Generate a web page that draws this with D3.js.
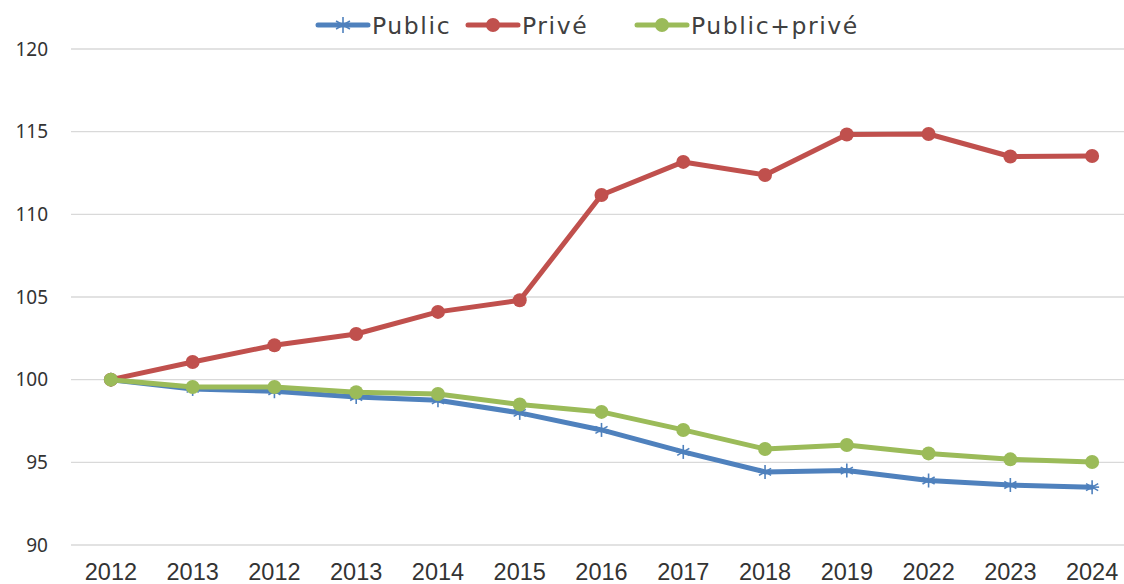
<!DOCTYPE html>
<html><head><meta charset="utf-8">
<script src="https://cdn.jsdelivr.net/npm/d3@7"></script>
<style>body{margin:0;background:#fff}svg{display:block}</style>
</head><body>
<svg id="chart" width="1124" height="584"></svg>
<script>
const categories = ["2012","2013","2012","2013","2014","2015","2016","2017","2018","2019","2022","2023","2024"];
const publicValues = [100, 99.44, 99.3, 98.95, 98.75, 97.99, 96.96, 95.63, 94.42, 94.5, 93.9, 93.63, 93.5];
const priveValues = [100, 101.07, 102.08, 102.76, 104.1, 104.8, 111.17, 113.17, 112.38, 114.83, 114.86, 113.5, 113.53];
const totalValues = [100, 99.56, 99.56, 99.24, 99.13, 98.5, 98.05, 96.96, 95.81, 96.05, 95.54, 95.18, 95.02];
const yTicks = [90, 95, 100, 105, 110, 115, 120];
const seriesNames = ["Public", "Privé", "Public+privé"];

const svg = d3.select("#chart");
const x = d3.scaleBand().domain(d3.range(categories.length)).range([70, 1133]).padding(0);
const y = d3.scaleLinear().domain([90, 120]).range([545, 49]);
const cx = i => x(i) + x.bandwidth() / 2;

// grid
svg.append("g").selectAll("line").data(yTicks).join("line")
  .attr("x1", 71).attr("x2", 1124)
  .attr("y1", d => y(d)).attr("y2", d => y(d))
  .attr("stroke", "#d9d9d9").attr("stroke-width", 1.3);

// y axis labels
const yAxis = d3.axisLeft(y).tickValues(yTicks).tickSize(0).tickPadding(0).tickFormat(d3.format("d"));
const gy = svg.append("g").attr("transform", "translate(48,0)").call(yAxis);
gy.select(".domain").remove();
gy.selectAll("text").attr("font-family", "Noto Sans, DejaVu Sans, sans-serif").attr("font-size", 19).attr("fill", "#333");

// x axis labels
const xAxis = d3.axisBottom(x).tickSize(0).tickPadding(0).tickFormat(i => categories[i]);
const gx = svg.append("g").attr("transform", "translate(0,563)").call(xAxis);
gx.select(".domain").remove();
gx.selectAll("text").attr("font-family", "Liberation Sans Narrow, Liberation Sans, sans-serif").attr("font-size", 23.5).attr("fill", "#333");

const line = d3.line().x((d, i) => cx(i)).y(d => y(d));
const colors = ["#4F81BD", "#C0504D", "#9BBB59"];
const data = [publicValues, priveValues, totalValues];

function asterisk(g, px, py, r, color) {
  const a = [0, 60, 120].map(t => t * Math.PI / 180);
  a.forEach(t => {
    g.append("line").attr("x1", px - r * Math.sin(t)).attr("y1", py - r * Math.cos(t))
      .attr("x2", px + r * Math.sin(t)).attr("y2", py + r * Math.cos(t))
      .attr("stroke", color).attr("stroke-width", 1.6);
  });
  g.append("line").attr("x1", px - r).attr("x2", px + r).attr("y1", py).attr("y2", py)
    .attr("stroke", color).attr("stroke-width", 1.6);
}

data.forEach((vals, k) => {
  const g = svg.append("g");
  g.append("path").datum(vals).attr("d", line).attr("fill", "none")
    .attr("stroke", colors[k]).attr("stroke-width", 5).attr("stroke-linejoin", "round").attr("stroke-linecap", "round");
  if (k === 0) {
    vals.forEach((v, i) => asterisk(g, cx(i), y(v), 7, colors[k]));
  } else {
    g.selectAll("circle").data(vals).join("circle")
      .attr("cx", (d, i) => cx(i)).attr("cy", d => y(d)).attr("r", 7).attr("fill", colors[k]);
  }
});

// legend
const legendX = [318, 468, 637];
const lg = svg.append("g");
seriesNames.forEach((n, k) => {
  const g = lg.append("g").attr("transform", `translate(${legendX[k]},25)`);
  g.append("line").attr("x1", 0).attr("x2", 50).attr("y1", 0).attr("y2", 0)
    .attr("stroke", colors[k]).attr("stroke-width", 5).attr("stroke-linecap", "round");
  if (k === 0) asterisk(g, 25, 0, 8, colors[k]);
  else g.append("circle").attr("cx", 25).attr("cy", 0).attr("r", 7).attr("fill", colors[k]);
  g.append("text").attr("x", 54).attr("y", 8.5).text(n)
    .attr("font-family", "DejaVu Sans, Noto Sans, sans-serif").attr("font-size", 23.5)
    .attr("letter-spacing", 1.6).attr("fill", "#404040");
});
</script>
</body></html>
